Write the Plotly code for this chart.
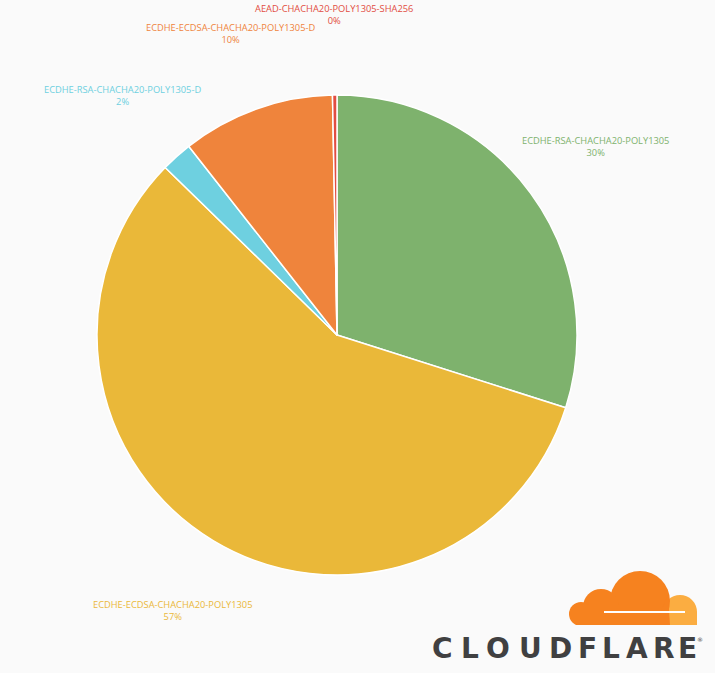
import numpy as np
import plotly.graph_objects as go

labels = ["ECDHE-RSA-CHACHA20-POLY1305", "ECDHE-ECDSA-CHACHA20-POLY1305",
          "ECDHE-RSA-CHACHA20-POLY1305-D", "ECDHE-ECDSA-CHACHA20-POLY1305-D",
          "AEAD-CHACHA20-POLY1305-SHA256"]
values = [29.9, 57.4, 2.1, 10.3, 0.3]
colors = ["#7eb26d", "#eab839", "#6ed0e0", "#ef843c", "#e24d42"]
# label anchor positions (pixels, centre of the two-line label)
label_pos = [(595, 146), (172, 610), (122, 96), (230, 33), (334, 14)]

W, H = 715, 673
BG = "#fafafa"

def px(x):
    return x / W

def py(y):
    return 1 - y / H

cx, cy, r = 337, 335, 240

fig = go.Figure(go.Pie(
    labels=labels, values=values, sort=False, direction="clockwise", rotation=0,
    marker=dict(colors=colors, line=dict(color="white", width=1.5)),
    textinfo="none", hoverinfo="label+percent", showlegend=False,
    domain=dict(x=[px(cx - r), px(cx + r)], y=[py(cy + r), py(cy - r)]),
))

total = sum(values)
annotations = []
for lab, v, c, (lx, ly) in zip(labels, values, colors, label_pos):
    annotations.append(dict(
        x=px(lx), y=py(ly), xref="paper", yref="paper", showarrow=False,
        text=f"{lab}<br>{round(v / total * 100)}%", align="center",
        font=dict(family="Open Sans", size=9.3, color=c),
        xanchor="center", yanchor="middle"))

# Cloudflare wordmark
letters = list("CLOUDFLARE")
letter_x = [443, 470, 498, 530, 560, 587, 611, 637, 664, 687]
for ch, lx in zip(letters, letter_x):
    annotations.append(dict(
        x=px(lx), y=py(648), xref="paper", yref="paper", showarrow=False,
        text=f"<b>{ch}</b>", font=dict(family="DejaVu Sans", size=28, color="#404041"),
        xanchor="center", yanchor="middle"))
annotations.append(dict(x=px(700), y=py(639), xref="paper", yref="paper", showarrow=False,
                        text="®", font=dict(family="DejaVu Sans", size=6, color="#404041"),
                        xanchor="center", yanchor="middle"))

shapes = []

def circle(x0, y0, rr, color):
    shapes.append(dict(type="circle", xref="paper", yref="paper",
                       x0=px(x0 - rr), x1=px(x0 + rr), y0=py(y0 + rr), y1=py(y0 - rr),
                       fillcolor=color, line=dict(width=0), layer="above"))

def rect(x0, y0, x1, y1, color):
    shapes.append(dict(type="rect", xref="paper", yref="paper",
                       x0=px(x0), x1=px(x1), y0=py(y1), y1=py(y0),
                       fillcolor=color, line=dict(width=0), layer="above"))

LIGHT = "#fbad41"
DARK = "#f6821f"
circle(680, 612, 17, LIGHT)
rect(660, 612, 697, 625, LIGHT)
circle(640, 601, 30, DARK)
circle(601, 607, 18, DARK)
circle(581, 614, 12, DARK)
rect(579, 605, 662, 625, DARK)
shapes.append(dict(type="path", xref="paper", yref="paper",
                   path=f"M{px(655)},{py(625)} L{px(668)},{py(595)} L{px(670)},{py(625)} Z",
                   fillcolor=DARK, line=dict(width=0), layer="above"))
rect(560, 625, 705, 634, BG)
shapes.append(dict(type="line", xref="paper", yref="paper",
                   x0=px(604), x1=px(685), y0=py(612), y1=py(612),
                   line=dict(color="white", width=2), layer="above"))

fig.update_layout(
    width=W, height=H, margin=dict(l=0, r=0, t=0, b=0),
    paper_bgcolor=BG, plot_bgcolor=BG,
    annotations=annotations, shapes=shapes,
)

fig.write_html("out.html", config={"displayModeBar": False},
               post_script="document.body.style.margin='0';document.body.style.overflow='hidden';")
